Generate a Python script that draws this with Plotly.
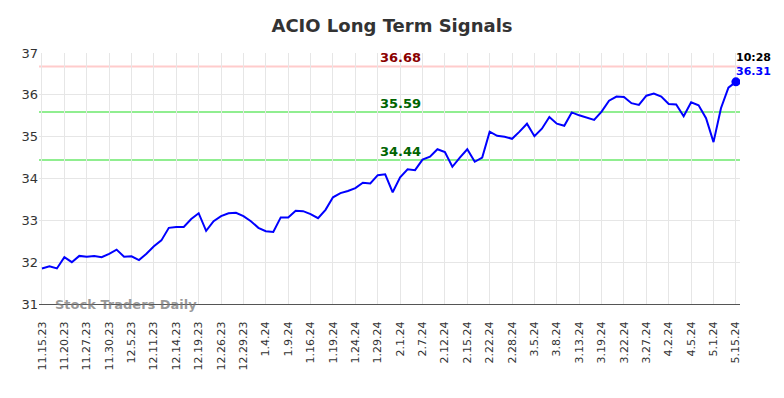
import plotly.graph_objects as go

tick_labels = ["11.15.23", "11.20.23", "11.27.23", "11.30.23", "12.5.23", "12.11.23", "12.14.23",
               "12.19.23", "12.26.23", "12.29.23", "1.4.24", "1.9.24", "1.16.24", "1.19.24",
               "1.24.24", "1.29.24", "2.1.24", "2.7.24", "2.12.24", "2.15.24", "2.22.24",
               "2.28.24", "3.5.24", "3.8.24", "3.13.24", "3.19.24", "3.22.24", "3.27.24",
               "4.2.24", "4.5.24", "5.1.24", "5.15.24"]

prices = [31.85, 31.90, 31.85, 32.12, 32.00, 32.15, 32.13, 32.15, 32.12, 32.20,
          32.30, 32.13, 32.14, 32.05, 32.20, 32.38, 32.52, 32.82, 32.84, 32.84,
          33.03, 33.17, 32.75, 32.98, 33.10, 33.17, 33.18, 33.10, 32.98, 32.82,
          32.74, 32.72, 33.07, 33.07, 33.23, 33.22, 33.15, 33.05, 33.25, 33.55,
          33.65, 33.70, 33.77, 33.90, 33.88, 34.08, 34.10, 33.67, 34.03, 34.22,
          34.20, 34.45, 34.52, 34.70, 34.63, 34.28, 34.50, 34.70, 34.40, 34.50,
          35.12, 35.02, 35.00, 34.95, 35.12, 35.31, 35.01, 35.19, 35.47, 35.31,
          35.26, 35.58, 35.51, 35.45, 35.40, 35.60, 35.86, 35.96, 35.95, 35.80,
          35.76, 35.98, 36.03, 35.96, 35.78, 35.77, 35.49, 35.82, 35.75, 35.44,
          34.87, 35.68, 36.17, 36.31]

signal_levels = [36.68, 35.59, 34.44]
signal_line_colors = ["rgb(255,204,204)", "rgb(144,238,144)", "rgb(144,238,144)"]
signal_text_colors = ["rgb(139,0,0)", "rgb(0,100,0)", "rgb(0,100,0)"]
last_time = "10:28"

x_idx = list(range(len(prices)))
tick_step = 3
tick_vals = [i * tick_step for i in range(len(tick_labels))]

fig = go.Figure()
fig.add_trace(go.Scatter(x=x_idx, y=prices, mode="lines",
                         line=dict(color="#0000ff", width=2), hoverinfo="skip"))
fig.add_trace(go.Scatter(x=[x_idx[-1]], y=[prices[-1]], mode="markers",
                         marker=dict(color="#0000ff", size=9), hoverinfo="skip"))

for lvl, lc, tc in zip(signal_levels, signal_line_colors, signal_text_colors):
    fig.add_shape(type="line", xref="paper", x0=0, x1=1, yref="y", y0=lvl, y1=lvl,
                  line=dict(color=lc, width=2), layer="below")
    fig.add_annotation(x=48, y=lvl, xref="x", yref="y", text=f"<b>{lvl:.2f}</b>",
                       showarrow=False, yanchor="bottom", xanchor="center",
                       font=dict(family="DejaVu Sans", size=13, color=tc), yshift=-1)

fig.add_annotation(x=x_idx[-1], y=prices[-1], xref="x", yref="y", text=f"<b>{last_time}</b>",
                   showarrow=False, xanchor="left", yanchor="middle", yshift=24, xshift=-2,
                   font=dict(family="DejaVu Sans", size=11, color="#000000"))
fig.add_annotation(x=x_idx[-1], y=prices[-1], xref="x", yref="y", text=f"<b>{prices[-1]:.2f}</b>",
                   showarrow=False, xanchor="left", yanchor="middle", yshift=10, xshift=-2,
                   font=dict(family="DejaVu Sans", size=11, color="#0000ff"))

fig.add_annotation(x=0.02, y=31, xref="paper", yref="y", text="<b>Stock Traders Daily</b>",
                   showarrow=False, xanchor="left", yanchor="middle",
                   font=dict(family="DejaVu Sans", size=13, color="rgba(120,120,120,0.75)"))

fig.update_layout(
    width=784, height=398,
    margin=dict(l=39, r=44, t=53, b=94),
    paper_bgcolor="white", plot_bgcolor="white",
    showlegend=False,
    title=dict(text="<b>ACIO Long Term Signals</b>", x=0.5, xanchor="center", y=0.935,
               yanchor="middle", font=dict(family="DejaVu Sans", size=18, color="#333333")),
    xaxis=dict(range=[-0.4, 93.55], tickmode="array", tickvals=tick_vals, ticktext=tick_labels,
               tickangle=-90, showgrid=True, gridcolor="#e6e6e6", gridwidth=1,
               zeroline=False, showline=True, linecolor="#555555", linewidth=1,
               ticks="outside", ticklen=12, tickcolor="rgba(0,0,0,0)",
               tickfont=dict(family="DejaVu Sans", size=11, color="#333333")),
    yaxis=dict(range=[31, 37], tickvals=[31, 32, 33, 34, 35, 36, 37], showgrid=True,
               gridcolor="#e6e6e6", gridwidth=1, zeroline=False, showline=False, ticks="",
               tickfont=dict(family="DejaVu Sans", size=13, color="#333333")),
)

fig.write_html("out.html")
